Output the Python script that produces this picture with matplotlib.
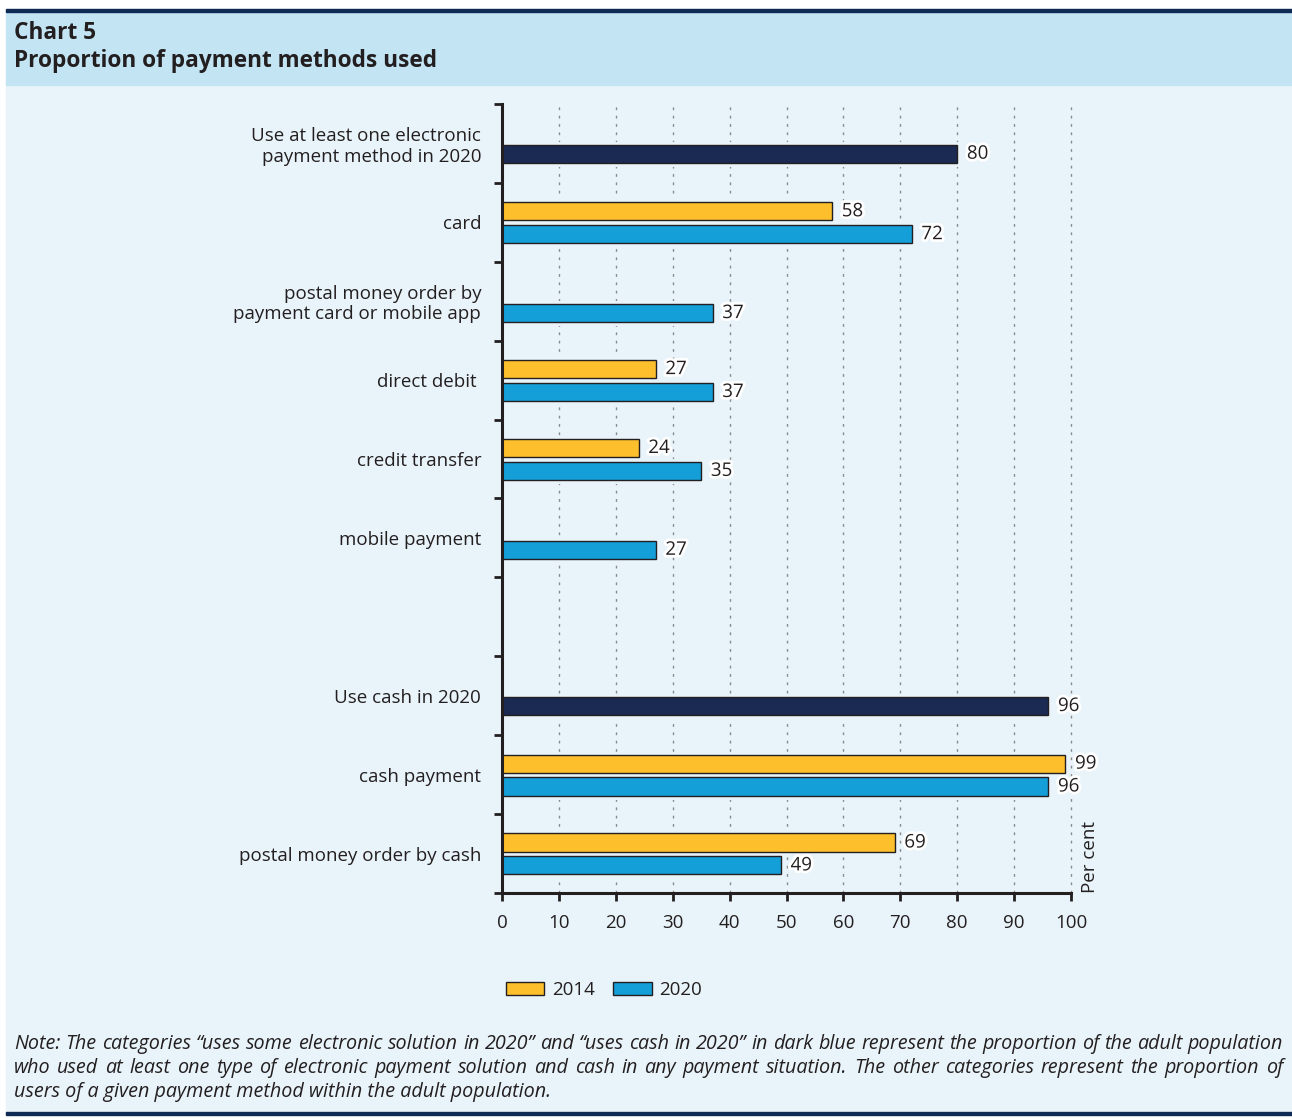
import numpy as np
import matplotlib
matplotlib.use("Agg")
import matplotlib.pyplot as plt
import matplotlib.patheffects as pe
from matplotlib.patches import Rectangle, Patch

plt.rcParams['font.family'] = ['Open Sans', 'DejaVu Sans']

# data (one slot per row, empty slot is the gap between groups)
categories = [
    "Use at least one electronic\npayment method in 2020",
    "card",
    "postal money order by\npayment card or mobile app",
    "direct debit ",
    "credit transfer",
    "mobile payment",
    "",
    "Use cash in 2020",
    "cash payment",
    "postal money order by cash",
]
v_total = [80, np.nan, np.nan, np.nan, np.nan, np.nan, np.nan, 96, np.nan, np.nan]
v_2014 = [np.nan, 58, np.nan, 27, 24, np.nan, np.nan, np.nan, 99, 69]
v_2020 = [np.nan, 72, 37, 37, 35, 27, np.nan, np.nan, 96, 49]
x_ticks = [0, 10, 20, 30, 40, 50, 60, 70, 80, 90, 100]

BG = '#e9f4fa'
HEAD = '#c2e4f3'
NAVY = '#0f2a55'
DARK = '#1b2a52'
YELLOW = '#fdbf2b'
BLUE = '#149fd8'
TXT = '#231f20'

fig = plt.figure(figsize=(12.92, 11.18), dpi=100)
W, H = 1292, 1118

def fy(px):  # pixel from top -> figure coord
    return 1 - px / H

# background panels
fig.patches.append(Rectangle((6 / W, fy(1112)), 1 - 6 / W, fy(85) - fy(1112),
                             transform=fig.transFigure, color=BG, zorder=-2))
fig.patches.append(Rectangle((6 / W, fy(85)), 1 - 6 / W, fy(11) - fy(85),
                             transform=fig.transFigure, color=HEAD, zorder=-2))
fig.patches.append(Rectangle((6 / W, fy(12)), 1 - 6 / W, 3 / H,
                             transform=fig.transFigure, color=NAVY, zorder=-1))
fig.patches.append(Rectangle((6 / W, fy(1115)), 1 - 6 / W, 3 / H,
                             transform=fig.transFigure, color=NAVY, zorder=-1))

fig.text(14 / W, fy(33), "Chart 5", fontsize=16.3, fontweight='bold', color=TXT, va='center')
fig.text(14 / W, fy(61), "Proportion of payment methods used", fontsize=16.3,
         fontweight='bold', color=TXT, va='center')

ax = fig.add_axes([502 / W, fy(893), 569 / W, (893 - 104) / H])
ax.set_facecolor('none')
ax.set_zorder(2)

pos = np.arange(len(categories))
h = 0.23
halo = [pe.withStroke(linewidth=4, foreground='white')]

def draw(vals, offset, color):
    idx = [i for i, v in enumerate(vals) if not np.isnan(v)]
    y = pos[idx] + offset
    w = [vals[i] for i in idx]
    # light halo to break the grid lines around the bars
    ax.barh(y, w, height=h, color=BG, edgecolor=BG, linewidth=5, zorder=2)
    bars = ax.barh(y, w, height=h, color=color, edgecolor=TXT, linewidth=1.0, zorder=3)
    labels = ax.bar_label(bars, fmt='%d', padding=7, fontsize=13.5, color=TXT, zorder=4)
    for t in labels:
        t.set_path_effects(halo)

draw(v_total, 0.13, DARK)
draw(v_2014, -0.14, YELLOW)
draw(v_2020, 0.15, BLUE)

ax.set_xlim(0, 100)
ax.set_ylim(len(categories) - 0.5, -0.5)
ax.set_xticks(x_ticks)
ax.set_xticklabels([str(t) for t in x_ticks], fontsize=13.5, color=TXT)
ax.tick_params(axis='x', direction='out', length=6, width=2, color=TXT, pad=9)

ax.set_yticks(np.arange(len(categories) + 1) - 0.5)
ax.set_yticklabels([])
ax.set_yticks(pos, minor=True)
ax.set_yticklabels(categories, minor=True, fontsize=13.5, color=TXT, linespacing=1.15)
ax.tick_params(axis='y', which='major', direction='out', length=6, width=2, color=TXT)
ax.tick_params(axis='y', which='minor', length=0, pad=15)

ax.grid(axis='x', linestyle=(0, (2, 4)), color='#8a8a8a', linewidth=1.0, zorder=1)
ax.set_axisbelow(True)
for gl in ax.get_xgridlines():
    gl.set_clip_on(False)
for s in ['top', 'right']:
    ax.spines[s].set_visible(False)
for s in ['left', 'bottom']:
    ax.spines[s].set_linewidth(2.2)
    ax.spines[s].set_color(TXT)
    ax.spines[s].set_zorder(5)

ax.text(1.033, 0.0, "Per cent", transform=ax.transAxes, rotation=90,
        ha='center', va='bottom', fontsize=13.5, color=TXT)

handles = [Patch(facecolor=YELLOW, edgecolor=TXT, linewidth=1.0, label='2014'),
           Patch(facecolor=BLUE, edgecolor=TXT, linewidth=1.0, label='2020')]
fig.legend(handles=handles, loc='center left', bbox_to_anchor=(489 / W, fy(990)),
           ncol=2, frameon=False, fontsize=13.5, handlelength=2.05, handleheight=0.72,
           handletextpad=0.4, columnspacing=1.0, labelcolor=TXT)

note = [
    "Note: The categories \u201cuses some electronic solution in 2020\u201d and \u201cuses cash in 2020\u201d in dark blue represent the proportion of the adult population",
    "who used at least one type of electronic payment solution and cash in any payment situation. The other categories represent the proportion of",
    "users of a given payment method within the adult population.",
]
# justified note lines (last line left aligned)
renderer = fig.canvas.get_renderer()
x0, x1 = 14, 1283
for i, line in enumerate(note):
    y = fy(1044 + 24 * i)
    if i == len(note) - 1:
        fig.text(x0 / W, y, line, fontsize=14.2, style='italic', color=TXT, va='center')
        continue
    words = line.split(' ')
    texts = [fig.text(0, y, w_, fontsize=14.2, style='italic', color=TXT, va='center')
             for w_ in words]
    widths = [t.get_window_extent(renderer).width for t in texts]
    gap = (x1 - x0 - sum(widths)) / (len(words) - 1)
    x = x0
    for t, wd in zip(texts, widths):
        t.set_x(x / W)
        x += wd + gap

fig.savefig('out.png', dpi=100, facecolor='white')
